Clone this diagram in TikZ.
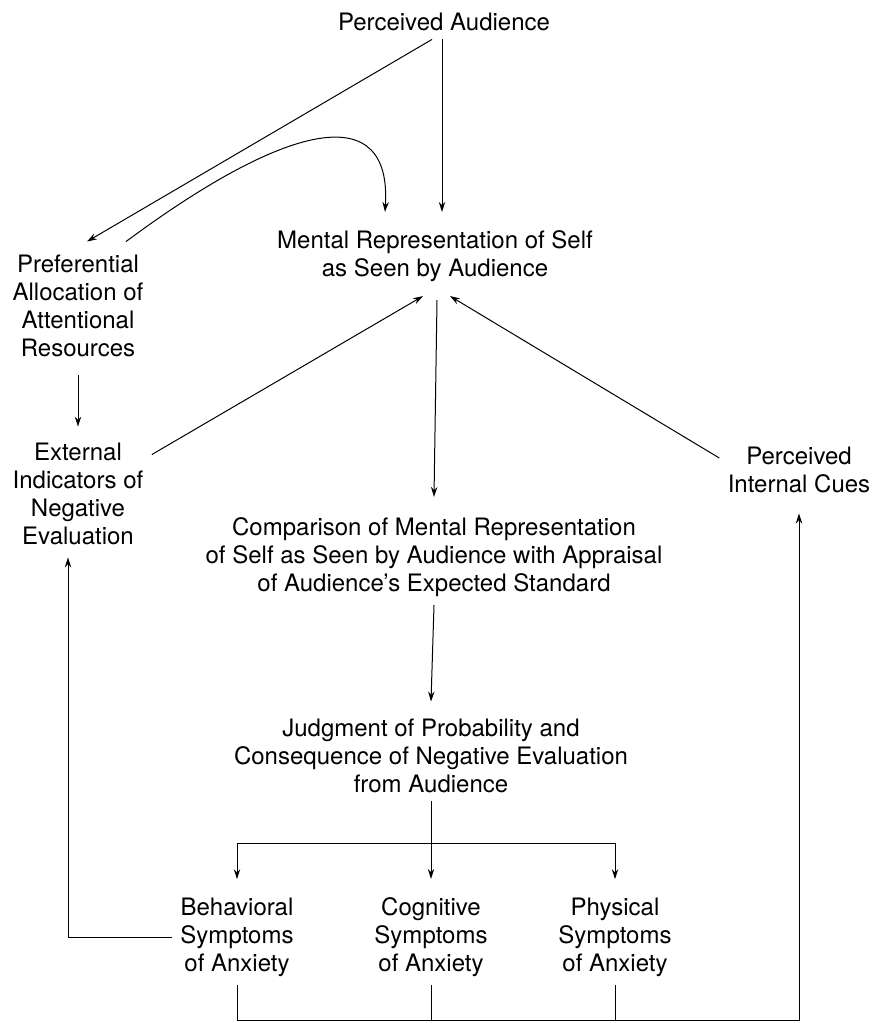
\documentclass[tikz,border=0pt]{standalone}
\usepackage{fontspec}
\setmainfont{TeX Gyre Heros}
\usetikzlibrary{arrows.meta}

\begin{document}
\begin{tikzpicture}[x=0.5pt,y=-0.5pt,line width=0.5pt,
  >={Stealth[length=5pt,width=3.2pt]},
  txt/.style={align=center,inner sep=4pt,font=\fontsize{12}{14}\selectfont}]
  \useasboundingbox (0,0) rectangle (874,1023);
  \node[txt] (pa) at (444,22) {Perceived Audience};
  \node[txt] (mr) at (435,256) {Mental Representation of Self\\as Seen by Audience};
  \node[txt] (pr) at (78,306) {Preferential\\Allocation of\\Attentional\\Resources};
  \node[txt] (ex) at (78,494) {External\\Indicators of\\Negative\\Evaluation};
  \node[txt] (ic) at (799,470) {Perceived\\Internal Cues};
  \node[txt] (cm) at (434,557) {Comparison of Mental Representation\\of Self as Seen by Audience with Appraisal\\of Audience's Expected Standard};
  \node[txt] (jd) at (431,756) {Judgment of Probability and\\Consequence of Negative Evaluation\\from Audience};
  \node[txt] (bs) at (237,937) {Behavioral\\Symptoms\\of Anxiety};
  \node[txt] (cs) at (431,937) {Cognitive\\Symptoms\\of Anxiety};
  \node[txt] (ps) at (615,937) {Physical\\Symptoms\\of Anxiety};
  \coordinate (br) at (431,843);
  \coordinate (bt) at (799,1020);
  % top part
  \draw[->] ([xshift=-6pt]pa.south) -- ([xshift=4.5pt,yshift=2.5pt]pr.north);
  \draw[->] ([xshift=-1pt]pa.south) -- ([xshift=3.5pt,yshift=5pt]mr.north);
  \draw[->] ([xshift=24pt,yshift=2.5pt]pr.north) .. controls (290,120) and (392,100) .. ([xshift=-25pt,yshift=5pt]mr.north);
  \draw[->] ([yshift=-5pt]pr.south) -- ([yshift=4pt]ex.north);
  \draw[->] ([yshift=-10pt]ex.north east) -- ([xshift=-6pt,yshift=-3pt]mr.south);
  \draw[->] ([yshift=6pt]ic.west) -- ([xshift=7.5pt,yshift=-3pt]mr.south);
  \draw[->] ([xshift=1pt,yshift=-5pt]mr.south) -- ([yshift=6pt]cm.north);
  \draw[->] (cm.south) -- ([yshift=4.5pt]jd.north);
  % symptoms
  \draw (jd.south) -- (br);
  \draw[->] (br) -| ([yshift=5pt]bs.north);
  \draw[->] (br) -- ([yshift=5pt]cs.north);
  \draw[->] (br) -| ([yshift=5pt]ps.north);
  % feedback loops
  \draw[->] (bs.west) -| ([xshift=-5pt,yshift=-2pt]ex.south);
  \draw (cs.south) -- (cs.south |- bt);
  \draw (ps.south) -- (ps.south |- bt);
  \draw[->] (bs.south) |- (bt) -- ([yshift=-6pt]ic.south);
\end{tikzpicture}
\end{document}
